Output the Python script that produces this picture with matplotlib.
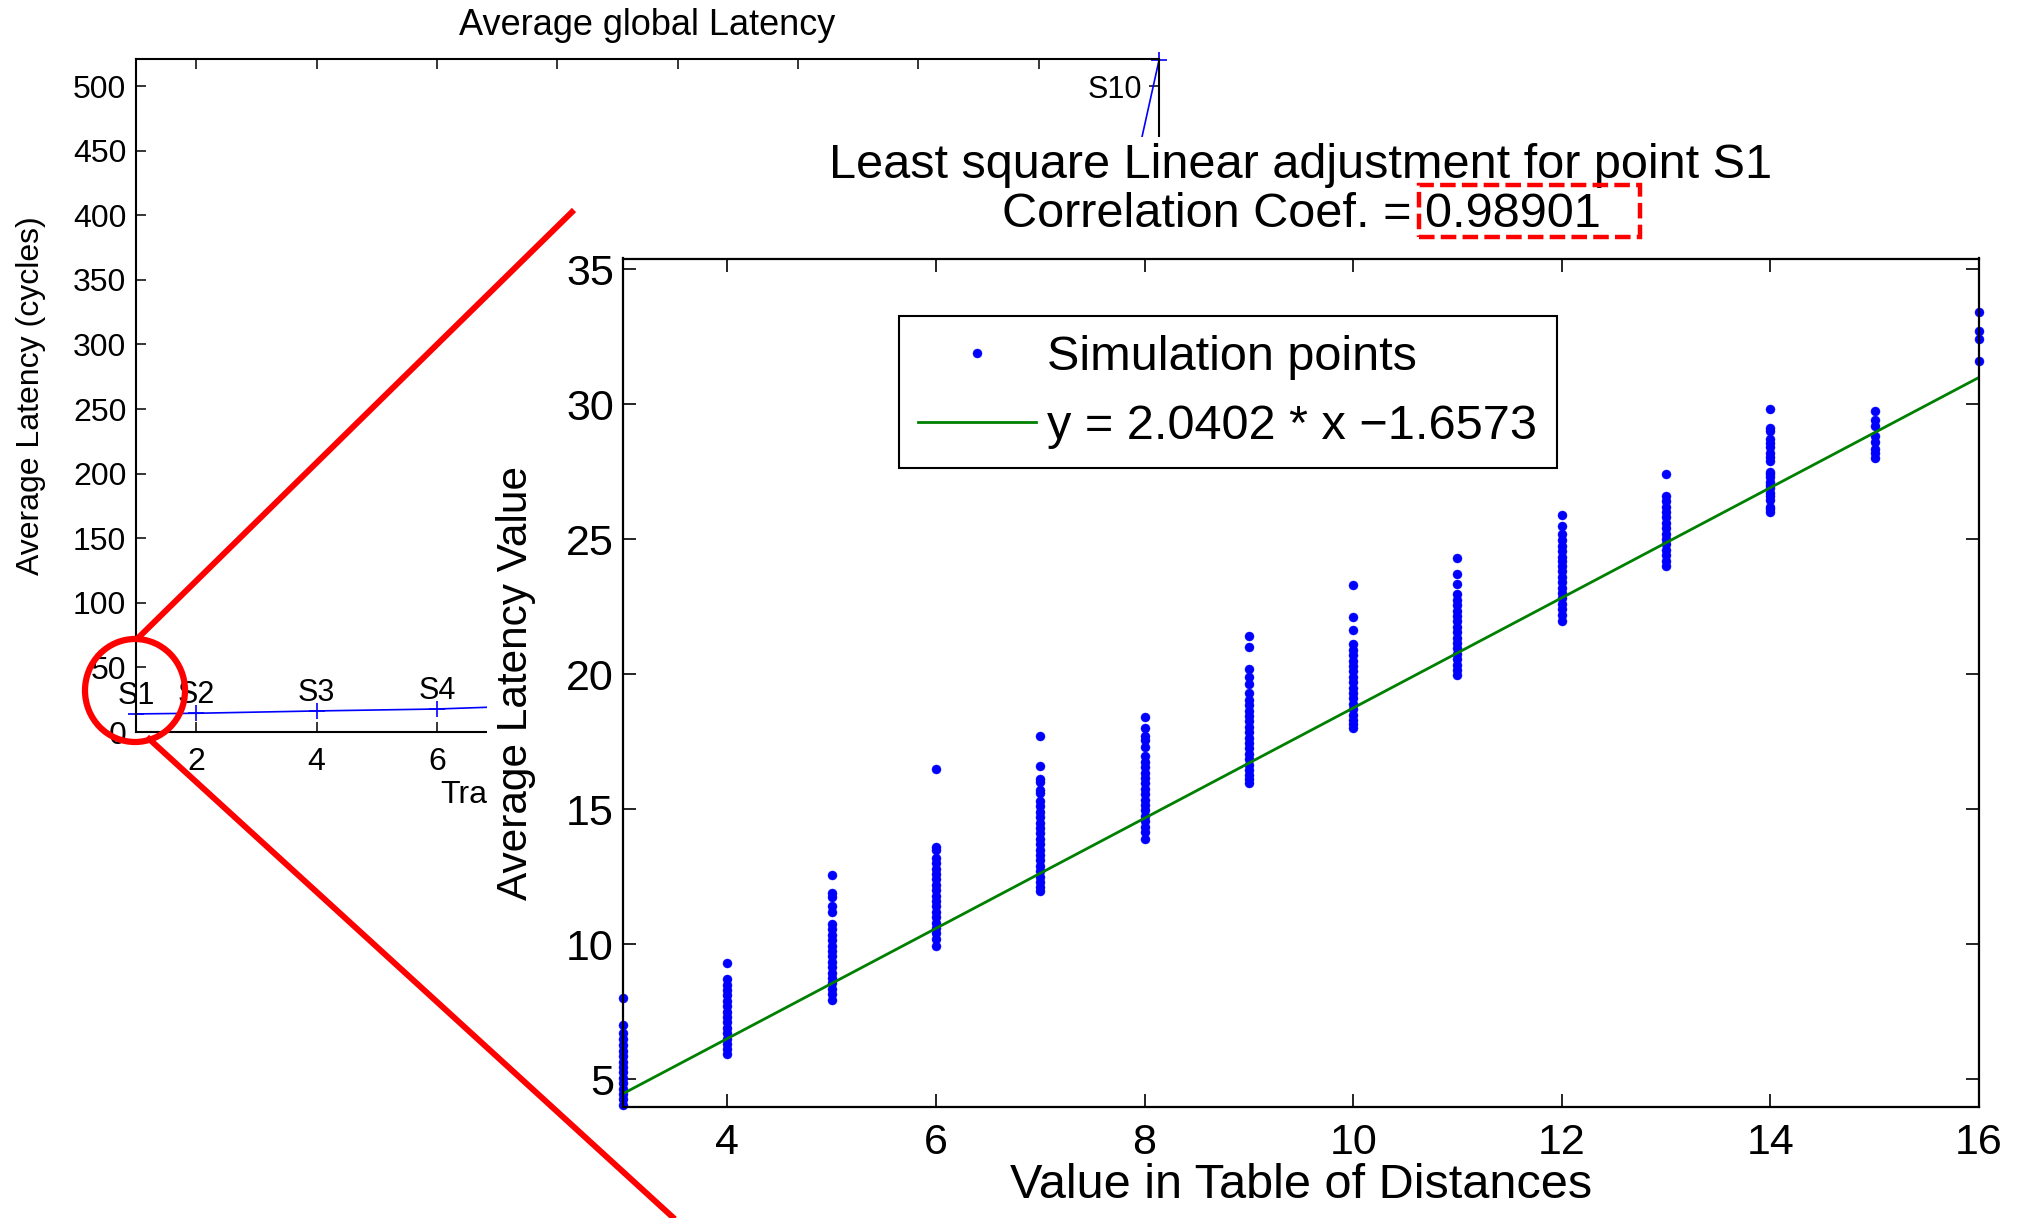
import matplotlib
matplotlib.use("Agg")
import matplotlib.pyplot as plt
from matplotlib.patches import Rectangle, Ellipse
from matplotlib.lines import Line2D

plt.rcParams.update({
    "font.family": ["Liberation Sans", "DejaVu Sans"],
    "axes.linewidth": 1.5,
    "xtick.direction": "in",
    "ytick.direction": "in",
})

# ── DATA ──────────────────────────────────────────────────────────────────────
# background chart: average global latency of each traffic scenario
scenario_names = ["S1", "S2", "S3", "S4", "S10"]
scenario_x = [1, 2, 4, 6, 8, 10, 12, 14, 16, 18]
scenario_latency = [14.0, 14.5, 16.3, 17.8, 21.0, 27.0, 38.0, 60.0, 100.0, 520.0]
labelled_points = [0, 1, 2, 3, 9]          # indices of the named scenarios
bg_xticks = [2, 4, 6, 8, 10, 12, 14, 16]
bg_xticklabels = ["2", "4", "6", "", "", "", "", ""]   # rest lie under the inset
bg_yticks = [0, 50, 100, 150, 200, 250, 300, 350, 400, 450, 500]

# inset: latency of point S1 against the value in the table of distances
distances = [3, 4, 5, 6, 7, 8, 9, 10, 11, 12, 13, 14, 15, 16]
lat_d3 = [8.0, 7.0, 6.7, 6.5, 6.25, 6.05, 5.85, 5.65, 5.45, 5.25, 5.05, 4.85,
          4.65, 4.45, 4.25, 4.05]
lat_d4 = [9.3, 8.7, 8.5, 8.3, 8.1, 7.9, 7.7, 7.5, 7.3, 7.1, 6.9, 6.7, 6.5, 6.3,
          6.1, 5.95]
lat_d5 = [12.55, 11.9, 11.75, 11.4, 11.2, 10.75, 10.55, 10.35, 10.15, 9.95,
          9.75, 9.55, 9.35, 9.15, 8.95, 8.75, 8.55, 8.35, 8.15, 7.95]
lat_d6 = [16.5, 13.6, 13.5, 13.2, 13.0, 12.8, 12.6, 12.4, 12.2, 12.0, 11.8,
          11.6, 11.4, 11.2, 11.0, 10.8, 10.6, 10.4, 10.2, 9.95]
lat_d7 = [17.7, 16.6, 16.1, 16.0, 15.7, 15.6, 15.3, 15.1, 14.9, 14.7, 14.5,
          14.3, 14.1, 13.9, 13.7, 13.5, 13.3, 13.1, 12.9, 12.7, 12.5, 12.3,
          12.1, 11.95]
lat_d8 = [18.4, 18.0, 17.7, 17.55, 17.3, 16.95, 16.75, 16.55, 16.35, 16.15,
          15.95, 15.75, 15.55, 15.35, 15.15, 14.95, 14.75, 14.55, 14.35,
          14.15, 13.9]
lat_d9 = [21.4, 21.0, 20.2, 19.9, 19.65, 19.3, 19.05, 18.85, 18.65, 18.45,
          18.25, 18.05, 17.85, 17.65, 17.45, 17.25, 17.05, 16.85, 16.65,
          16.45, 16.25, 16.1, 15.95]
lat_d10 = [23.3, 22.1, 21.65, 21.1, 20.9, 20.7, 20.5, 20.3, 20.1, 19.9, 19.7,
           19.5, 19.3, 19.1, 18.9, 18.7, 18.5, 18.3, 18.15, 18.0]
lat_d11 = [24.3, 23.7, 23.35, 22.95, 22.75, 22.55, 22.35, 22.15, 21.95, 21.75,
           21.55, 21.35, 21.15, 20.95, 20.75, 20.55, 20.35, 20.15, 19.95]
lat_d12 = [25.9, 25.5, 25.2, 24.95, 24.75, 24.55, 24.35, 24.2, 24.0, 23.8,
           23.6, 23.4, 23.2, 23.0, 22.8, 22.6, 22.4, 22.2, 21.95]
lat_d13 = [27.4, 26.6, 26.4, 26.2, 26.0, 25.8, 25.6, 25.4, 25.2, 25.0, 24.8,
           24.6, 24.4, 24.2, 24.0]
lat_d14 = [29.8, 29.1, 29.0, 28.7, 28.55, 28.4, 28.2, 28.05, 27.9, 27.5, 27.4,
           27.3, 27.1, 27.0, 26.9, 26.7, 26.6, 26.45, 26.2, 26.1, 26.0]
lat_d15 = [29.75, 29.4, 29.2, 28.8, 28.6, 28.35, 28.2, 28.0]
lat_d16 = [33.4, 32.7, 32.4, 31.6]
latency_columns = [lat_d3, lat_d4, lat_d5, lat_d6, lat_d7, lat_d8, lat_d9,
                   lat_d10, lat_d11, lat_d12, lat_d13, lat_d14, lat_d15, lat_d16]

fit_slope = 2.0402
fit_intercept = -1.6573
fit_x = [3, 16]
correlation = 0.98901
in_xticks = [4, 6, 8, 10, 12, 14, 16]
in_yticks = [5, 10, 15, 20, 25, 30, 35]

# ── LAYOUT (pixels of the 2029x1218 canvas, measured from top-left) ───────────
W, H = 2029, 1218


def fig_box(left, top, right, bottom):
    return [left / W, 1 - bottom / H, (right - left) / W, (bottom - top) / H]


def fig_pt(x, y):
    return (x / W, 1 - y / H)


fig = plt.figure(figsize=(W / 100, H / 100), dpi=100)

# ── BACKGROUND CHART ──────────────────────────────────────────────────────────
ax_bg = fig.add_axes(fig_box(136, 59, 1159, 732))
ax_bg.plot(scenario_x, scenario_latency, color="blue", lw=1.2, marker="+",
           ms=11, mew=1.2, clip_on=False)
for name, i in zip(scenario_names[:-1], labelled_points[:-1]):
    ax_bg.text(scenario_x[i], scenario_latency[i] + 14, name, ha="center",
               va="center", fontsize=22)
i = labelled_points[-1]
ax_bg.text(scenario_x[i] - 0.28, scenario_latency[i] - 23, scenario_names[-1],
           ha="right", va="center", fontsize=22)
ax_bg.set_xlim(1, 18)
ax_bg.set_ylim(0, 521)
ax_bg.set_xticks(bg_xticks, bg_xticklabels)
ax_bg.set_yticks(bg_yticks)
ax_bg.tick_params(top=True, right=True, length=7, width=1.1, labelsize=23)
ax_bg.tick_params(axis="y", pad=7)
ax_bg.tick_params(axis="x", pad=10.5)
ax_bg.set_title("Average global Latency", fontsize=26, pad=17)
ax_bg.set_ylabel("Average Latency (cycles)", fontsize=23, labelpad=19.5)
# only the start of the x label shows; the inset sheet hides the rest
ax_bg.set_xlabel("Tra", fontsize=23, ha="left")
ax_bg.xaxis.set_label_coords((440 - 136) / (1159 - 136), -0.072)

# white sheet carrying the zoomed-in chart
fig.add_artist(Rectangle(fig_pt(487, H), (W - 487) / W, (H - 137) / H,
                         transform=fig.transFigure, facecolor="white",
                         edgecolor="none", zorder=1))

# ── INSET: LEAST SQUARE FIT FOR S1 ────────────────────────────────────────────
ax_in = fig.add_axes(fig_box(623, 258.5, 1979, 1107))
ax_in.set_zorder(2)
pts_x, pts_y = [], []
for d, col in zip(distances, latency_columns):
    pts_x += [d] * len(col)
    pts_y += col
ax_in.plot(pts_x, pts_y, ls="none", marker="o", ms=6.5, mfc="blue", mec="blue",
           mew=0.3, clip_on=False, label="Simulation points")
fit_y = [fit_slope * x + fit_intercept for x in fit_x]
ax_in.plot(fit_x, fit_y, color="green", lw=2,
           label=f"y = {fit_slope} * x \u2212{abs(fit_intercept)}")
ax_in.set_xlim(3, 16)
ax_in.set_ylim(3.97, 35.39)
ax_in.set_xticks(in_xticks)
ax_in.set_yticks(in_yticks)
ax_in.tick_params(top=True, right=True, length=9.5, width=1.2, labelsize=31)
ax_in.tick_params(axis="y", pad=6.5)
ax_in.tick_params(axis="x", pad=11.5)
ax_in.set_title("Least square Linear adjustment for point S1\n"
                f"Correlation Coef. = {correlation}",
                fontsize=35, linespacing=1.09, pad=23)
ax_in.set_xlabel("Value in Table of Distances", fontsize=35, labelpad=0)
ax_in.set_ylabel("Average Latency Value", fontsize=30.5, labelpad=22)
for s in ax_in.spines.values():
    s.set_linewidth(1.6)

leg = ax_in.legend(loc="upper left", bbox_to_anchor=fig_pt(899, 316),
                   bbox_transform=fig.transFigure, borderaxespad=0,
                   fontsize=35, numpoints=1, handlelength=2.42,
                   handletextpad=0.23, borderpad=0.4, labelspacing=0.48,
                   fancybox=False, framealpha=1)
leg.get_frame().set_edgecolor("black")
leg.get_frame().set_linewidth(1.5)

# ── RED CALL-OUT MARKS ────────────────────────────────────────────────────────
red = "#ff0000"
fig.add_artist(Ellipse(fig_pt(135, 690.5), 100 / W, 103 / H, transform=fig.transFigure,
                       fill=False, edgecolor=red, lw=4.5, zorder=3))
for (x0, y0), (x1, y1) in [((136, 640), (574, 210)), ((147, 737), (678, 1222))]:
    p0, p1 = fig_pt(x0, y0), fig_pt(x1, y1)
    fig.add_artist(Line2D([p0[0], p1[0]], [p0[1], p1[1]], transform=fig.transFigure,
                          color=red, lw=4.3, solid_capstyle="butt", zorder=3))
fig.add_artist(Rectangle(fig_pt(1419, 237), 221 / W, 52 / H, transform=fig.transFigure,
                         fill=False, edgecolor=red, lw=3.2, ls=(0, (3.5, 1.4)),
                         zorder=3))

fig.savefig("out.png", dpi=100)
